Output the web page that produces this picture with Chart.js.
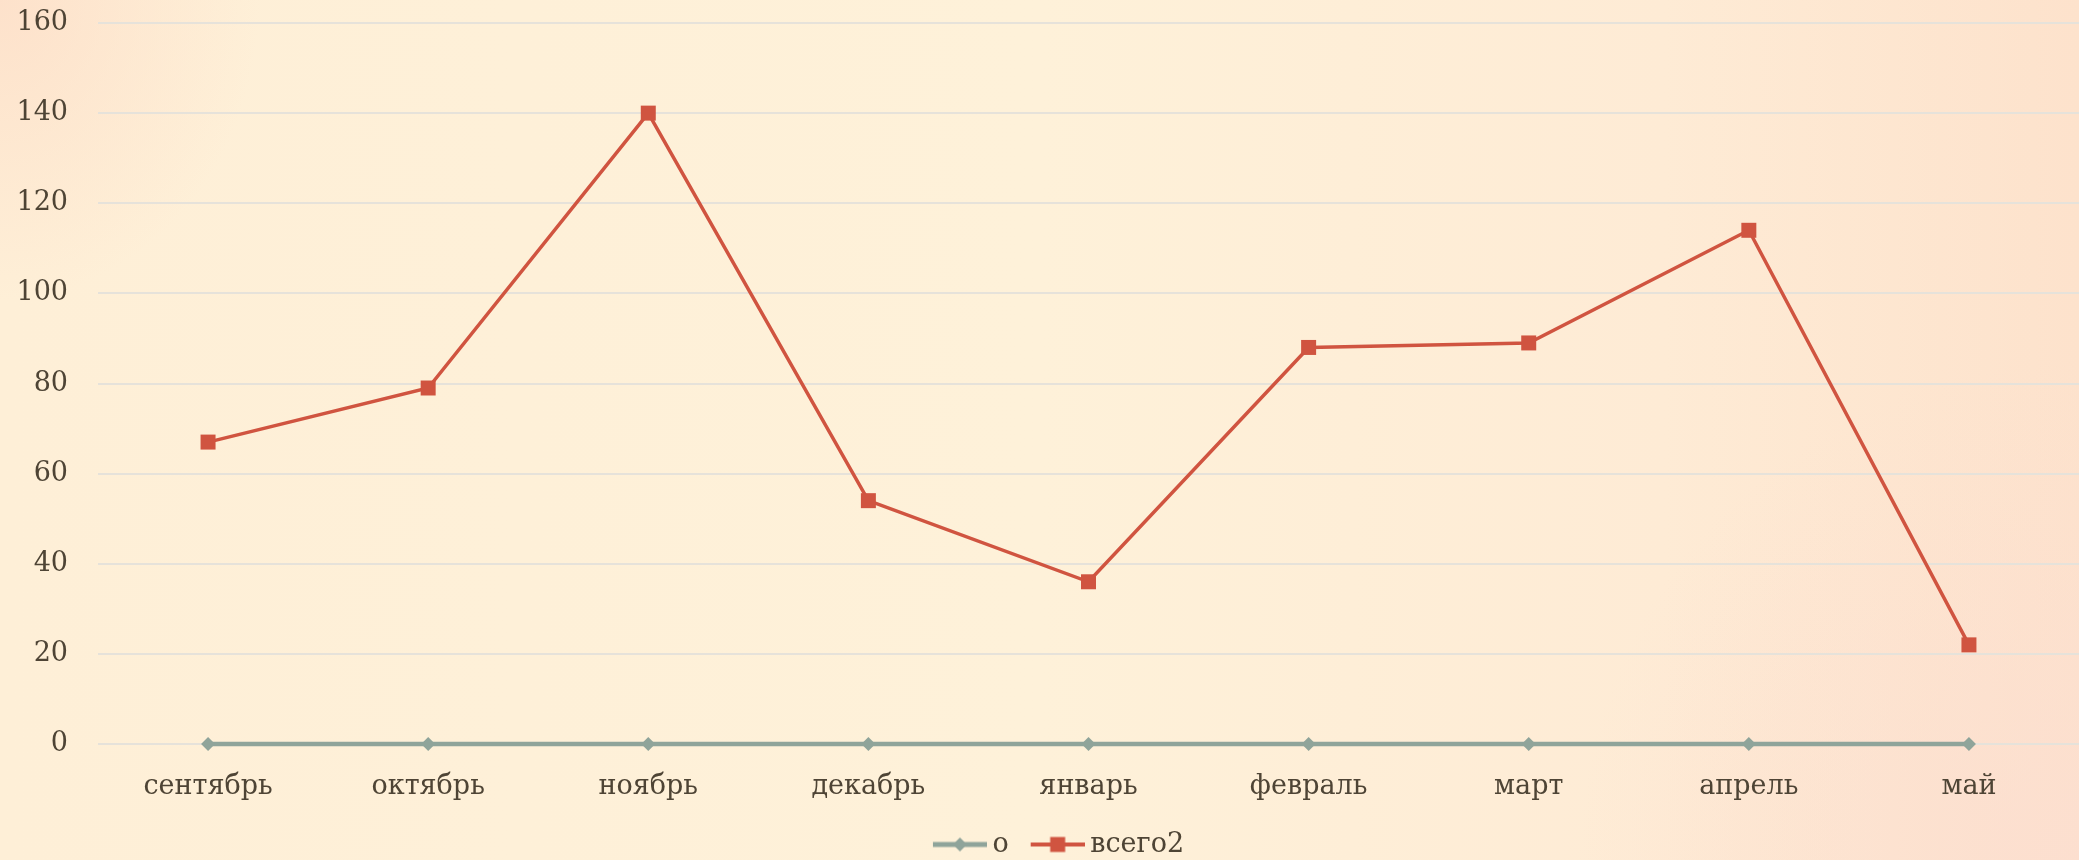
<!DOCTYPE html>
<html>
<head>
<meta charset="utf-8">
<script src="https://cdn.jsdelivr.net/npm/chart.js@4.4.1/dist/chart.umd.min.js"></script>
<style>
html,body{margin:0;padding:0;}
body{width:2079px;height:860px;overflow:hidden;position:relative;
background:
 radial-gradient(ellipse 260px 300px at 0% 0%, rgba(253,222,200,0.8), rgba(253,222,200,0) 100%),
 radial-gradient(ellipse 500px 500px at 100% 100%, rgba(252,222,208,0.8), rgba(252,222,208,0) 100%),
 linear-gradient(to right, #FEEFD7 0%, #FEF1D9 50%, #FEEBD5 80%, #FDE2CC 100%);}
#wrap{position:absolute;left:0;top:0;width:2079px;height:868px;}
</style>
</head>
<body>
<div id="wrap"><canvas id="c" width="2079" height="868"></canvas></div>
<script>
const categories = ["сентябрь","октябрь","ноябрь","декабрь","январь","февраль","март","апрель","май"];
const seriesO = [0,0,0,0,0,0,0,0,0];
const seriesVsego2 = [67,79,140,54,36,88,89,114,22];
const yTicks = [0,20,40,60,80,100,120,140,160];
const seriesNames = ["о","всего2"];

const GRAY = "#8FA49A";
const RED = "#D05440";
const TEXT = "#4E4435";
const FONT = "'DejaVu Serif', serif";
const FS = 27;

function legendImg(color, marker){
  const c = document.createElement('canvas');
  c.width = 62; c.height = 18;
  const g = c.getContext('2d');
  g.strokeStyle = color; g.lineWidth = marker==='rect' ? 4 : 5;
  g.beginPath(); g.moveTo(8,9); g.lineTo(62,9); g.stroke();
  g.fillStyle = color;
  if(marker==='rect'){ g.fillRect(27.5,1.5,15,15); }
  else { g.beginPath(); g.moveTo(35,2); g.lineTo(42,9); g.lineTo(35,16); g.lineTo(28,9); g.closePath(); g.fill(); }
  return c;
}
const imgO = legendImg(GRAY,'rectRot');
const imgV = legendImg(RED,'rect');

const shiftLegend = {
  id: 'shiftLegend',
  beforeDraw(chart) { if (chart.legend) { chart.legend.left = 38; } }
};

new Chart(document.getElementById('c'), {
  type: 'line',
  data: {
    labels: categories,
    datasets: [
      {label: seriesNames[0], data: seriesO, borderColor: GRAY, backgroundColor: GRAY, clip: false,
       borderWidth: 4.5, pointStyle: 'rectRot', pointRadius: 7, pointHoverRadius: 7, pointBorderWidth: 0, tension: 0, order: 2},
      {label: seriesNames[1], data: seriesVsego2, borderColor: RED, backgroundColor: RED, clip: false,
       borderWidth: 3.5, pointStyle: 'rect', pointRadius: 10.6, pointHoverRadius: 10.6, pointBorderWidth: 0, tension: 0, order: 1}
    ]
  },
  plugins: [shiftLegend],
  options: {
    responsive: false,
    animation: false,
    layout: {autoPadding: false, padding: {top: 23, right: 0, left: 0, bottom: 0}},
    scales: {
      x: {
        offset: true,
        grid: {display: false, drawTicks: false},
        border: {display: false},
        ticks: {color: TEXT, font: {family: FONT, size: FS}, padding: 27, maxRotation: 0, autoSkip: false},
        afterFit: (s) => { s.height = 65; }
      },
      y: {
        min: 0, max: 160,
        afterBuildTicks: (s) => { s.ticks = yTicks.map(v => ({value: v})); },
        grid: {color: "#E6E2DA", lineWidth: 2, drawTicks: true, tickLength: 30, tickColor: "rgba(0,0,0,0)"},
        border: {display: false},
        ticks: {color: TEXT, font: {family: FONT, size: FS}, padding: 0},
        afterFit: (s) => { s.width = 98; }
      }
    },
    plugins: {
      tooltip: {enabled: false},
      legend: {
        position: 'bottom',
        padding: 0,
        labels: {
          usePointStyle: true,
          pointStyleWidth: 46,
          color: TEXT,
          font: {family: FONT, size: FS},
          padding: 22,
          generateLabels: (chart) => chart.data.datasets.map((d, i) => ({
            text: d.label, pointStyle: i === 0 ? imgO : imgV, datasetIndex: i,
            fillStyle: d.borderColor, strokeStyle: d.borderColor, lineWidth: 0, fontColor: TEXT, hidden: false
          }))
        }
      }
    }
  }
});
</script>
</body>
</html>
